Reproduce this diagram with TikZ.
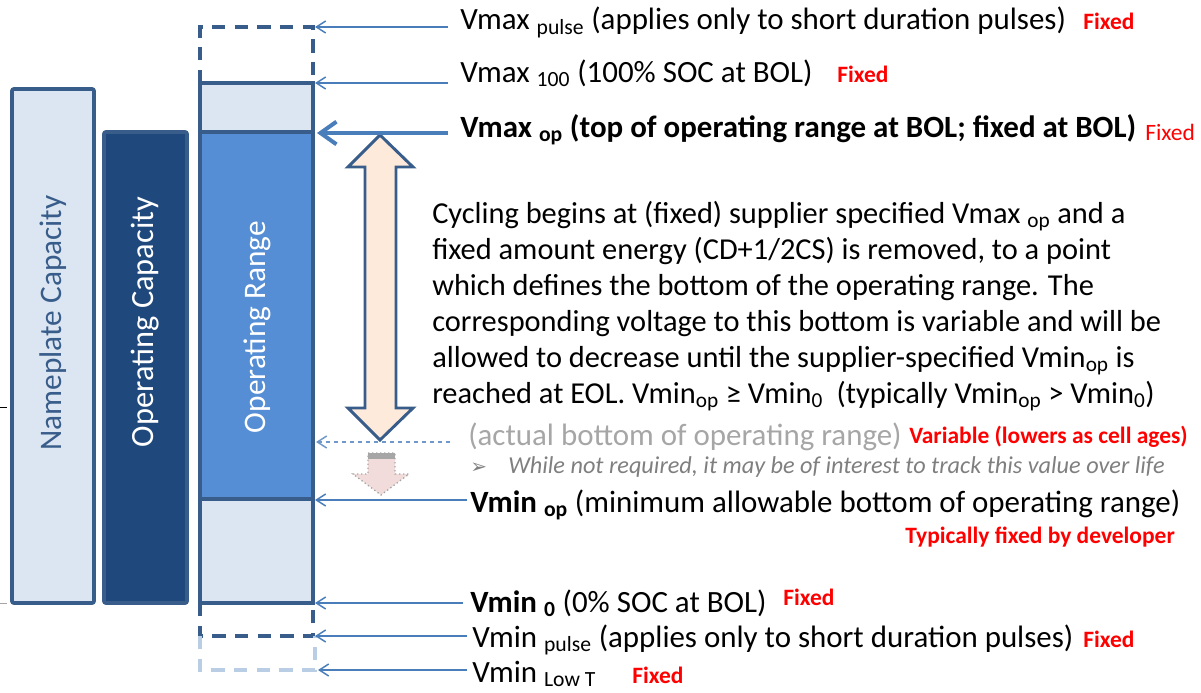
\documentclass[tikz,border=0pt]{standalone}
\usepackage{fontspec}
\setmainfont{Carlito}
\usetikzlibrary{arrows.meta}
\definecolor{lightfill}{HTML}{DCE6F2}
\definecolor{darkfill}{HTML}{1F497D}
\definecolor{midfill}{HTML}{558ED5}
\definecolor{edge}{HTML}{385D8A}
\definecolor{conncol}{HTML}{4A7EBB}
\definecolor{dashlight}{HTML}{B9CDE5}
\definecolor{peach}{HTML}{FDEADA}
\definecolor{pinkish}{HTML}{F2DCDB}
\definecolor{grayA}{HTML}{A6A6A6}
\definecolor{grayB}{HTML}{7F7F7F}
\begin{document}
\begin{tikzpicture}[x=0.75pt,y=-0.75pt,
  boxline/.style={draw=edge,line width=2.8pt},
  conn/.style={draw=conncol,line width=1.2pt,-{Straight Barb[length=7pt,width=9pt,line width=1.1pt]}},
  connthick/.style={draw=conncol,line width=3.4pt,-{Straight Barb[length=12pt,width=17pt,line width=3pt]}},
  lab/.style={anchor=base west,inner sep=0pt,font=\fontsize{23.2}{27}\selectfont,text=black},
  fixd/.style={anchor=base west,inner sep=0pt,text=red,font=\bfseries\fontsize{17.6}{20}\selectfont},
  vert/.style={rotate=90,inner sep=0pt,font=\fontsize{23.5}{27}\selectfont}
]
\useasboundingbox (0,0) rectangle (1201,692);

% stray marks at left
\draw[black,line width=0.6pt] (0,407) -- (7,407);
\draw[grayA,line width=0.6pt] (0,603) -- (7,603);

% Nameplate capacity bar
\draw[boxline,fill=lightfill,rounded corners=1.5pt] (12,89) rectangle (94,603);
\node[vert,text=edge] (np) at (53,323) {Nameplate Capacity};

% Operating capacity bar
\draw[boxline,fill=darkfill,rounded corners=1.5pt] (104,132) rectangle (187,603);
\node[vert,text=white,font=\fontsize{24.3}{27}\selectfont] (oc) at (145,322) {Operating Capacity};

% Operating range column
\draw[boxline,fill=lightfill] (200,83) rectangle (313,132);
\draw[boxline,fill=midfill] (200,132) rectangle (313,499);
\draw[boxline,fill=lightfill] (200,499) rectangle (313,603);
\draw[edge,line width=2.8pt,dash pattern=on 10pt off 7pt] (200,83) -- (200,27) -- (313,27) -- (313,83);
\draw[edge,line width=2.8pt,dash pattern=on 10pt off 7pt] (200,603) -- (200,636) -- (313,636) -- (313,603);
\draw[dashlight,line width=2.8pt,dash pattern=on 10pt off 7pt] (200,636) -- (200,670) -- (315,670) -- (315,636);
\node[vert,text=white] (orng) at (257,327) {Operating Range};

% big double arrow
\draw[edge,line width=2.2pt,fill=peach,line join=miter]
  (380,135) -- (413,167) -- (396,167) -- (396,408) -- (413,408) -- (380,440)
  -- (348,408) -- (365,408) -- (365,167) -- (348,167) -- cycle;

% small dotted arrow
\draw[grayA,line width=1pt,dotted,fill=pinkish]
  (368,453) -- (395,453) -- (395,474) -- (409,474) -- (381,495) -- (353,474) -- (368,474) -- cycle;
\fill[grayA] (368,453) rectangle (395,459);

% connector coordinates
\coordinate (t1) at (315,27);   \coordinate (e1) at (448,27);
\coordinate (t2) at (315,83);   \coordinate (e2) at (448,83);
\coordinate (t3) at (317,133);  \coordinate (e3) at (448,133);
\coordinate (t4) at (316,442);  \coordinate (e4) at (450,442);
\coordinate (t5) at (315,500);  \coordinate (e5) at (467,500);
\coordinate (t6) at (315,603);  \coordinate (e6) at (463,603);
\coordinate (t7) at (315,636);  \coordinate (e7) at (467,636);
\coordinate (t8) at (318,670);  \coordinate (e8) at (467,670);

\draw[conn] (e1) -- (t1);
\draw[conn] (e2) -- (t2);
\draw[connthick] (e3) -- (t3);
\draw[conn,dashed,draw=conncol!80] (e4) -- (t4);
\draw[conn] (e5) -- (t5);
\draw[conn] (e6) -- (t6);
\draw[conn] (e7) -- (t7);
\draw[conn] (e8) -- (t8);

% labels
\node[lab] (l1) at (460,30) {Vmax \textsubscript{pulse} (applies only to short duration pulses)};
\node[fixd] (f1) at (1083,30) {Fixed};
\node[lab] (l2) at (460,82) {Vmax \textsubscript{100} (100\% SOC at BOL)};
\node[fixd] (f2) at (837,83) {Fixed};
\node[lab,font=\bfseries\fontsize{23.2}{27}\selectfont] (l3) at (460,137) {Vmax \textsubscript{op} (top of operating range at BOL; fixed at BOL)};
\node[fixd,font=\fontsize{17.6}{20}\selectfont] (f3) at (1145,140) {Fixed};

\node[anchor=north west,inner sep=0pt,align=left,font=\fontsize{22.8}{27}\selectfont] (para) at (432,201)
{Cycling begins at (fixed) supplier specified Vmax \textsubscript{op} and a\\
fixed amount energy (CD+1/2CS) is removed, to a point\\
which defines the bottom of the operating range. The\\
corresponding voltage to this bottom is variable and will be\\
allowed to decrease until the supplier-specified Vmin\textsubscript{op} is\\
reached at EOL. Vmin\textsubscript{op} ≥ Vmin\textsubscript{0}~ (typically Vmin\textsubscript{op} > Vmin\textsubscript{0})};

\node[lab,text=grayA] (l4) at (468,445) {(actual bottom of operating range)};
\node[fixd] (f4) at (909,443) {Variable (lowers as cell ages)};
\node[anchor=base west,inner sep=0pt,text=grayB,font=\fontspec{DejaVu Sans}\fontsize{15}{17}\selectfont] (bul) at (470,473) {➢};
\node[anchor=base west,inner sep=0pt,text=grayB,font=\itshape\fontsize{18.2}{20}\selectfont] (l5) at (508,473) {While not required, it may be of interest to track this value over life};

\node[lab] (l6) at (470,512) {\textbf{Vmin \textsubscript{op}} (minimum allowable bottom of operating range)};
\node[fixd] (f6) at (905,543) {Typically fixed by developer};

\node[lab] (l7) at (470,612) {\textbf{Vmin \textsubscript{0}} (0\% SOC at BOL)};
\node[fixd] (f7) at (783,605) {Fixed};
\node[lab] (l8) at (472,647) {Vmin \textsubscript{pulse} (applies only to short duration pulses)};
\node[fixd] (f8) at (1083,647) {Fixed};
\node[lab] (l9) at (472,682) {Vmin \textsubscript{Low T}};
\node[fixd] (f9) at (632,683) {Fixed};
\end{tikzpicture}
\end{document}
